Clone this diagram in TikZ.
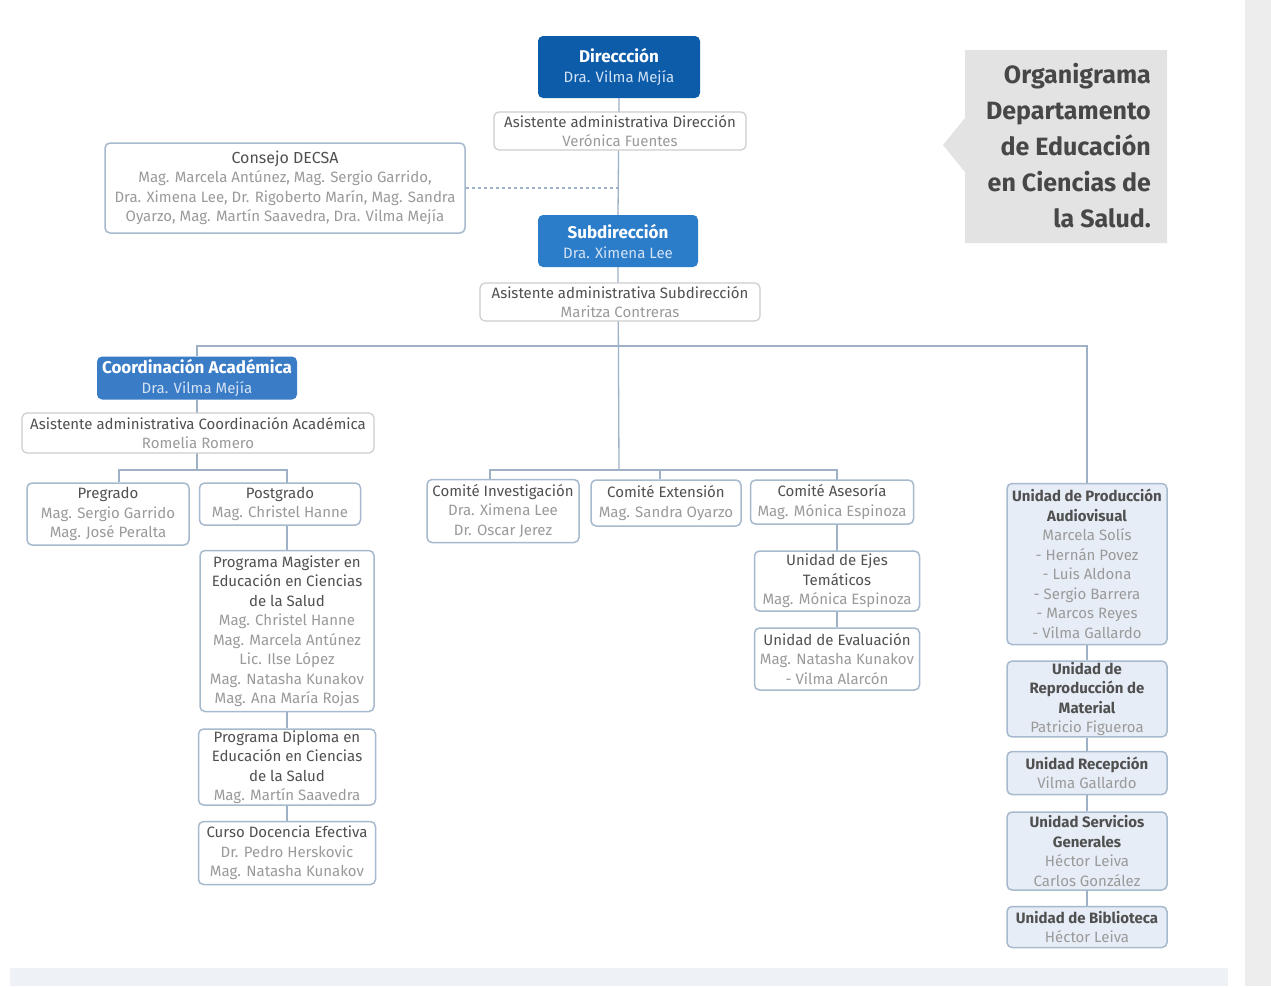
\documentclass[tikz,border=0pt]{standalone}
\usepackage{fontspec}
\setmainfont{Fira Sans}
\usetikzlibrary{calc}
\pgfdeclarelayer{background}
\pgfsetlayers{background,main}
\definecolor{dirblue}{HTML}{0D5CA9}
\definecolor{subblue}{HTML}{2B7CC9}
\definecolor{coordblue}{HTML}{3A7CC6}
\definecolor{hdname}{HTML}{D3E2F4}
\definecolor{titlec}{HTML}{505050}
\definecolor{namec}{HTML}{9A9A9A}
\definecolor{asisgray}{HTML}{CDCDCD}
\definecolor{unitborder}{HTML}{A7B9CD}
\definecolor{unitfill}{HTML}{E7EDF6}
\definecolor{linecol}{HTML}{9FB1C6}
\definecolor{tboxgray}{HTML}{E3E3E3}
\definecolor{ttext}{HTML}{474747}
\definecolor{bandgray}{HTML}{EDEDED}
\definecolor{bandblue}{HTML}{EEF2F7}
\newcommand{\boxtitle}[1]{\textcolor{titlec}{#1}}
\newcommand{\boxname}[1]{\textcolor{namec}{#1}}
\newcommand{\hdsub}[1]{\textcolor{hdname}{\fontsize{15}{20}\selectfont\mdseries #1}}
\tikzset{
  base/.style={rounded corners=5pt, align=center, inner sep=1pt,
    font=\fontsize{15}{19.5}\selectfont},
  head/.style={base, text=white, font=\fontsize{17}{20}\selectfont\bfseries},
  asis/.style={base, draw=asisgray, fill=white, line width=1.2pt},
  unit/.style={base, draw=unitborder, fill=white, line width=1.5pt},
  lunit/.style={unit, fill=unitfill},
  conn/.style={draw=linecol, line width=1.3pt},
}
\begin{document}
\begin{tikzpicture}[x=1pt,y=-1pt]
\useasboundingbox (0,0) rectangle (1271,986);
\begin{pgfonlayer}{background}
  \fill[white] (0,0) rectangle (1271,986);
  \fill[bandgray] (1245,0) rectangle (1271,986);
  \fill[bandblue] (10,968) rectangle (1228,986);
\end{pgfonlayer}

% title box
\fill[tboxgray] (965,50) -- (1167,50) -- (1167,243) -- (965,243) -- (965,172) -- (943,145) -- (965,118) -- cycle;
\node[align=right, anchor=north east, text=ttext, inner sep=0pt,
  font=\fontsize{25}{36}\selectfont\bfseries] (title) at (1151,63)
  {Organigrama\\Departamento\\de Educación\\en Ciencias de\\la Salud.};

% top
\node[head, fill=dirblue, minimum width=162pt, minimum height=62pt] (dir) at (619,67)
  {Direccción\\\hdsub{Dra. Vilma Mejía}};
\node[asis, minimum width=252pt, minimum height=38pt] (asisdir) at (620,131)
  {\boxtitle{Asistente administrativa Dirección}\\\boxname{Verónica Fuentes}};
\node[unit, minimum width=360pt, minimum height=90pt] (consejo) at (285,188)
  {\boxtitle{\fontsize{16}{19.5}\selectfont Consejo DECSA}\\
   \boxname{Mag. Marcela Antúnez, Mag. Sergio Garrido,}\\
   \boxname{Dra. Ximena Lee, Dr. Rigoberto Marín, Mag. Sandra}\\
   \boxname{Oyarzo, Mag. Martín Saavedra, Dra. Vilma Mejía}};
\node[head, fill=subblue, minimum width=160pt, minimum height=52pt] (sub) at (618,241)
  {Subdirección\\\hdsub{Dra. Ximena Lee}};
\node[asis, minimum width=280pt, minimum height=38pt] (asissub) at (620,302)
  {\boxtitle{Asistente administrativa Subdirección}\\\boxname{Maritza Contreras}};

% coordinacion academica
\node[head, fill=coordblue, minimum width=200pt, minimum height=43pt] (coord) at (197,378)
  {Coordinación Académica\\\hdsub{Dra. Vilma Mejía}};
\node[asis, minimum width=352pt, minimum height=40pt] (asiscoord) at (198,433)
  {\boxtitle{Asistente administrativa Coordinación Académica}\\\boxname{Romelia Romero}};
\node[unit, minimum width=162pt, minimum height=62pt] (pregrado) at (108,514)
  {\boxtitle{Pregrado}\\\boxname{Mag. Sergio Garrido}\\\boxname{Mag. José Peralta}};
\node[unit, minimum width=161pt, minimum height=42pt] (postgrado) at (280,504)
  {\boxtitle{Postgrado}\\\boxname{Mag. Christel Hanne}};
\node[unit, minimum width=174pt, minimum height=161pt] (magister) at (287,631)
  {\boxtitle{Programa Magister en}\\\boxtitle{Educación en Ciencias}\\\boxtitle{de la Salud}\\
   \boxname{Mag. Christel Hanne}\\\boxname{Mag. Marcela Antúnez}\\\boxname{Lic. Ilse López}\\
   \boxname{Mag. Natasha Kunakov}\\\boxname{Mag. Ana María Rojas}};
\node[unit, minimum width=177pt, minimum height=76pt] (diploma) at (287,767)
  {\boxtitle{Programa Diploma en}\\\boxtitle{Educación en Ciencias}\\\boxtitle{de la Salud}\\
   \boxname{Mag. Martín Saavedra}};
\node[unit, minimum width=177pt, minimum height=63pt] (curso) at (287,853)
  {\boxtitle{Curso Docencia Efectiva}\\\boxname{Dr. Pedro Herskovic}\\\boxname{Mag. Natasha Kunakov}};

% comites
\node[unit, minimum width=152pt, minimum height=63pt] (cominv) at (503,511)
  {\boxtitle{Comité Investigación}\\\boxname{Dra. Ximena Lee}\\\boxname{Dr. Oscar Jerez}};
\node[unit, minimum width=150pt, minimum height=46pt] (comext) at (666,503)
  {\boxtitle{Comité Extensión}\\\boxname{Mag. Sandra Oyarzo}};
\node[unit, minimum width=163pt, minimum height=44pt] (comase) at (832,502)
  {\boxtitle{Comité Asesoría}\\\boxname{Mag. Mónica Espinoza}};
\node[unit, minimum width=165pt, minimum height=60pt] (ejes) at (837,581)
  {\boxtitle{Unidad de Ejes}\\\boxtitle{Temáticos}\\\boxname{Mag. Mónica Espinoza}};
\node[unit, minimum width=165pt, minimum height=62pt] (eval) at (837,659)
  {\boxtitle{Unidad de Evaluación}\\\boxname{Mag. Natasha Kunakov}\\\boxname{- Vilma Alarcón}};

% unidades derecha
\node[lunit, minimum width=160pt, minimum height=161pt] (prod) at (1087,564)
  {\boxtitle{\bfseries Unidad de Producción}\\\boxtitle{\bfseries Audiovisual}\\\boxname{Marcela Solís}\\
   \boxname{- Hernán Povez}\\\boxname{- Luis Aldona}\\\boxname{- Sergio Barrera}\\
   \boxname{- Marcos Reyes}\\\boxname{- Vilma Gallardo}};
\node[lunit, minimum width=160pt, minimum height=74pt] (repro) at (1087,699)
  {\boxtitle{\bfseries Unidad de}\\\boxtitle{\bfseries Reproducción de}\\\boxtitle{\bfseries Material}\\\boxname{Patricio Figueroa}};
\node[lunit, minimum width=160pt, minimum height=43pt] (recep) at (1087,773)
  {\boxtitle{\bfseries Unidad Recepción}\\\boxname{Vilma Gallardo}};
\node[lunit, minimum width=160pt, minimum height=78pt] (serv) at (1087,851)
  {\boxtitle{\bfseries Unidad Servicios}\\\boxtitle{\bfseries Generales}\\\boxname{Héctor Leiva}\\\boxname{Carlos González}};
\node[lunit, minimum width=160pt, minimum height=41pt] (biblio) at (1087,927)
  {\boxtitle{\bfseries Unidad de Biblioteca}\\\boxname{Héctor Leiva}};

% connectors
\coordinate (bar) at (619,346);
\coordinate (cbar) at (619,470);
\coordinate (pbar) at (197,470);
\begin{pgfonlayer}{background}
  \draw[conn] (dir.south) -- (sub.north);
  \draw[conn, dashed] (consejo.east) -- (consejo.east -| dir.south);
  \draw[conn] (sub.south) -- (cbar);
  \draw[conn] (coord.north) |- (bar) -| (prod.north);
  \draw[conn] ([xshift=-13pt]cominv.north) |- (cbar) -| (eval.north);
  \draw[conn] ([xshift=-6pt]comext.north) -- ([xshift=-6pt]comext.north |- cbar);
  \draw[conn] (coord.south) -- (pbar);
  \draw[conn] ([xshift=11pt]pregrado.north) |- (pbar) -| (magister.north);
  \draw[conn] (magister.south) -- (diploma.north);
  \draw[conn] (diploma.south) -- (curso.north);
  \draw[conn] (prod.south) -- (repro.north);
  \draw[conn] (repro.south) -- (recep.north);
  \draw[conn] (recep.south) -- (serv.north);
  \draw[conn] (serv.south) -- (biblio.north);
\end{pgfonlayer}
\end{tikzpicture}
\end{document}
